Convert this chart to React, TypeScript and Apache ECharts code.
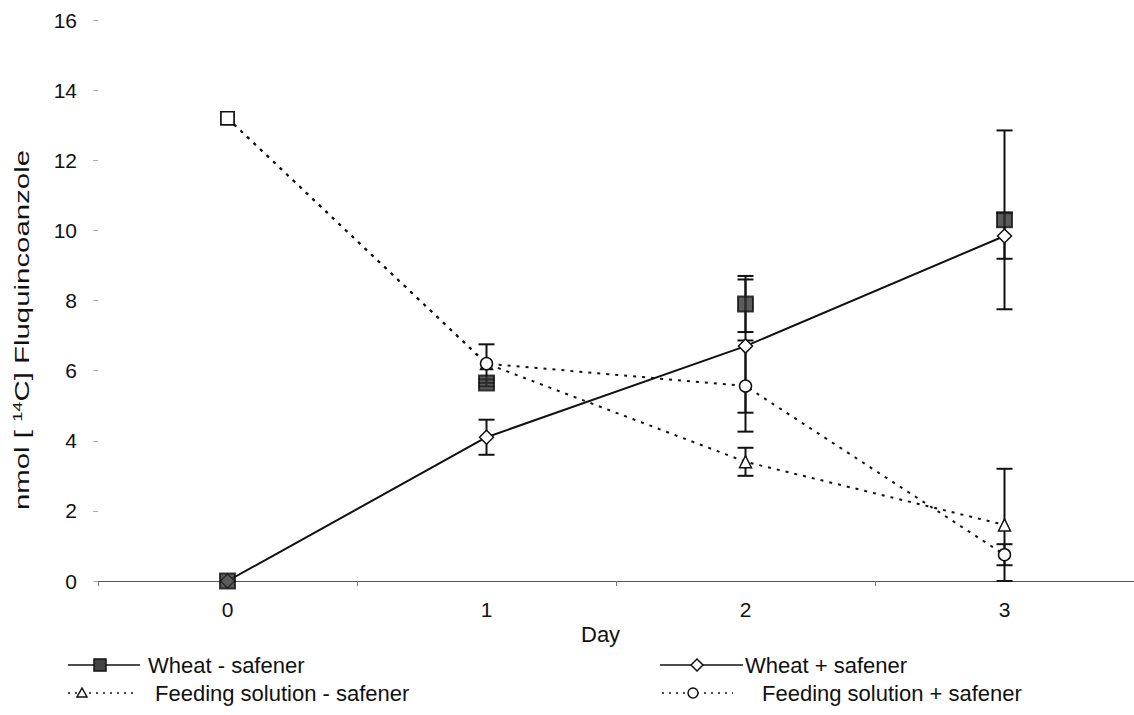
import React, { useEffect, useRef } from "react";
import * as echarts from "echarts";

// Sampling days (category axis)
const days = ["0", "1", "2", "3"];

// nmol [14C] fluquinconazole per series
const wheatMinus = [0, 5.65, 7.9, 10.3];
const wheatPlus = [0, 4.1, 6.7, 9.84];
const feedMinus = [13.2, 6.2, 3.4, 1.6];
const feedPlus = [13.2, 6.2, 5.56, 0.75];

// Standard errors (symmetric)
const wheatMinusErr = [0, 0.1, 0.8, 2.55];
const wheatPlusErr = [0, 0.5, 1.9, 0.65];
const feedMinusErr = [0, 0, 0.4, 1.6];
const feedPlusErr = [0, 0.55, 1.3, 0.3];

const yTicks = [0, 2, 4, 6, 8, 10, 12, 14, 16];

const FONT = "'Liberation Sans', Arial, sans-serif";
const INK = "#111";

function errorRows(values: number[], errs: number[]) {
  return values
    .map((v, i) => [i, v - errs[i], v + errs[i]])
    .filter((r, i) => errs[i] > 0);
}

function errorSeries(name: string, values: number[], errs: number[]) {
  return {
    type: "custom",
    name: name + " SE",
    data: errorRows(values, errs),
    encode: { x: 0, y: [1, 2] },
    z: 3,
    silent: true,
    renderItem: (params: any, api: any) => {
      const x = api.value(0);
      const lo = api.coord([x, api.value(1)]);
      const hi = api.coord([x, api.value(2)]);
      const w = 8;
      const style = { stroke: INK, lineWidth: 2 };
      return {
        type: "group",
        children: [
          { type: "line", shape: { x1: lo[0], y1: lo[1], x2: hi[0], y2: hi[1] }, style },
          { type: "line", shape: { x1: lo[0] - w, y1: lo[1], x2: lo[0] + w, y2: lo[1] }, style },
          { type: "line", shape: { x1: hi[0] - w, y1: hi[1], x2: hi[0] + w, y2: hi[1] }, style },
        ],
      };
    },
  };
}

// The first point of each feeding-solution series is drawn as an open square
function withStartSquare(values: number[]) {
  return values.map((v, i) =>
    i === 0 ? { value: v, symbol: "rect", symbolSize: 13 } : v
  );
}

const DOTTED = [3, 6];

function legendEntry(
  x0: number,
  x1: number,
  y: number,
  markerX: number,
  marker: any,
  dotted: boolean,
  label: string,
  textX: number
) {
  return [
    {
      type: "line",
      shape: { x1: x0, y1: y, x2: x1, y2: y },
      style: { stroke: INK, lineWidth: 1.5, lineDash: dotted ? [2, 5] : null },
    },
    { ...marker, x: markerX, y },
    {
      type: "text",
      x: textX,
      y,
      style: {
        text: label,
        font: `22px ${FONT}`,
        fill: INK,
        textAlign: "left",
        textVerticalAlign: "middle",
      },
    },
  ];
}

export default function App() {
  const ref = useRef<HTMLDivElement>(null);

  useEffect(() => {
    document.body.style.margin = "0";
    const chart = echarts.init(ref.current!, undefined, { renderer: "svg" });

    const squareMarker = {
      type: "rect",
      shape: { x: -6, y: -6, width: 12, height: 12 },
      style: { fill: "#444", stroke: INK, lineWidth: 1.5 },
    };
    const diamondMarker = {
      type: "polygon",
      shape: { points: [[0, -6], [6, 0], [0, 6], [-6, 0]] },
      style: { fill: "#fff", stroke: INK, lineWidth: 1.5 },
    };
    const triangleMarker = {
      type: "polygon",
      shape: { points: [[0, -5], [5, 4], [-5, 4]] },
      style: { fill: "#fff", stroke: INK, lineWidth: 1.5 },
    };
    const circleMarker = {
      type: "circle",
      shape: { cx: 0, cy: 0, r: 5 },
      style: { fill: "#fff", stroke: INK, lineWidth: 1.5 },
    };

    chart.setOption({
      animation: false,
      backgroundColor: "#fff",
      textStyle: { fontFamily: FONT },
      grid: { left: 98, right: -2, top: 20, bottom: 134, containLabel: false },
      xAxis: {
        type: "category",
        data: days,
        boundaryGap: true,
        axisLine: { show: true, lineStyle: { color: "#555", width: 1 } },
        axisTick: { show: true, length: 5, inside: false, lineStyle: { color: "#777" } },
        axisLabel: { color: INK, fontSize: 21, margin: 18, fontFamily: FONT },
        splitLine: { show: false },
      },
      yAxis: {
        type: "value",
        min: yTicks[0],
        max: yTicks[yTicks.length - 1],
        interval: 2,
        axisLine: { show: false },
        axisTick: { show: true, length: 5, lineStyle: { color: "#aaa" } },
        axisLabel: { color: INK, fontSize: 21, margin: 21, fontFamily: FONT },
        splitLine: { show: false },
      },
      graphic: [
        {
          type: "text",
          x: 22,
          y: 330,
          rotation: Math.PI / 2,
          scaleX: 1.4,
          style: {
            text: "nmol [ {sup|14}C] Fluquincoanzole",
            font: `21px ${FONT}`,
            fill: INK,
            textAlign: "center",
            textVerticalAlign: "middle",
            rich: {
              sup: { fontSize: 13, fontFamily: FONT, fill: INK, padding: [0, 0, 9, 0] },
            },
          },
        },
        {
          type: "text",
          x: 581,
          y: 634,
          style: {
            text: "Day",
            font: `22px ${FONT}`,
            fill: INK,
            textAlign: "left",
            textVerticalAlign: "middle",
          },
        },
        ...legendEntry(68, 140, 665, 100, squareMarker, false, "Wheat - safener", 148),
        ...legendEntry(68, 135, 693, 82, triangleMarker, true, "Feeding solution - safener", 155),
        ...legendEntry(660, 743, 665, 697, diamondMarker, false, "Wheat + safener", 745),
        ...legendEntry(662, 733, 693, 693, circleMarker, true, "Feeding solution + safener", 762),
      ],
      series: [
        errorSeries("Wheat - safener", wheatMinus, wheatMinusErr),
        errorSeries("Wheat + safener", wheatPlus, wheatPlusErr),
        errorSeries("Feeding solution - safener", feedMinus, feedMinusErr),
        errorSeries("Feeding solution + safener", feedPlus, feedPlusErr),
        {
          type: "line",
          name: "Feeding solution - safener",
          data: withStartSquare(feedMinus),
          symbol: "triangle",
          symbolSize: 12,
          showSymbol: true,
          lineStyle: { color: INK, width: 2, type: DOTTED },
          itemStyle: { color: "#fff", borderColor: INK, borderWidth: 1.5 },
          z: 4,
        },
        {
          type: "line",
          name: "Feeding solution + safener",
          data: withStartSquare(feedPlus),
          symbol: "circle",
          symbolSize: 12,
          showSymbol: true,
          lineStyle: { color: INK, width: 2, type: DOTTED },
          itemStyle: { color: "#fff", borderColor: INK, borderWidth: 1.5 },
          z: 4,
        },
        {
          type: "line",
          name: "Wheat + safener",
          data: wheatPlus,
          symbol: "diamond",
          symbolSize: 14,
          showSymbol: true,
          lineStyle: { color: INK, width: 2 },
          itemStyle: { color: "#fff", borderColor: INK, borderWidth: 1.5 },
          z: 5,
        },
        {
          type: "scatter",
          name: "Wheat - safener",
          data: wheatMinus,
          symbol: "rect",
          symbolSize: 15,
          itemStyle: { color: "#333", borderColor: INK, borderWidth: 2 },
          z: 6,
        },
      ],
    });

    return () => chart.dispose();
  }, []);

  return <div ref={ref} style={{ width: 1134, height: 715 }} />;
}
